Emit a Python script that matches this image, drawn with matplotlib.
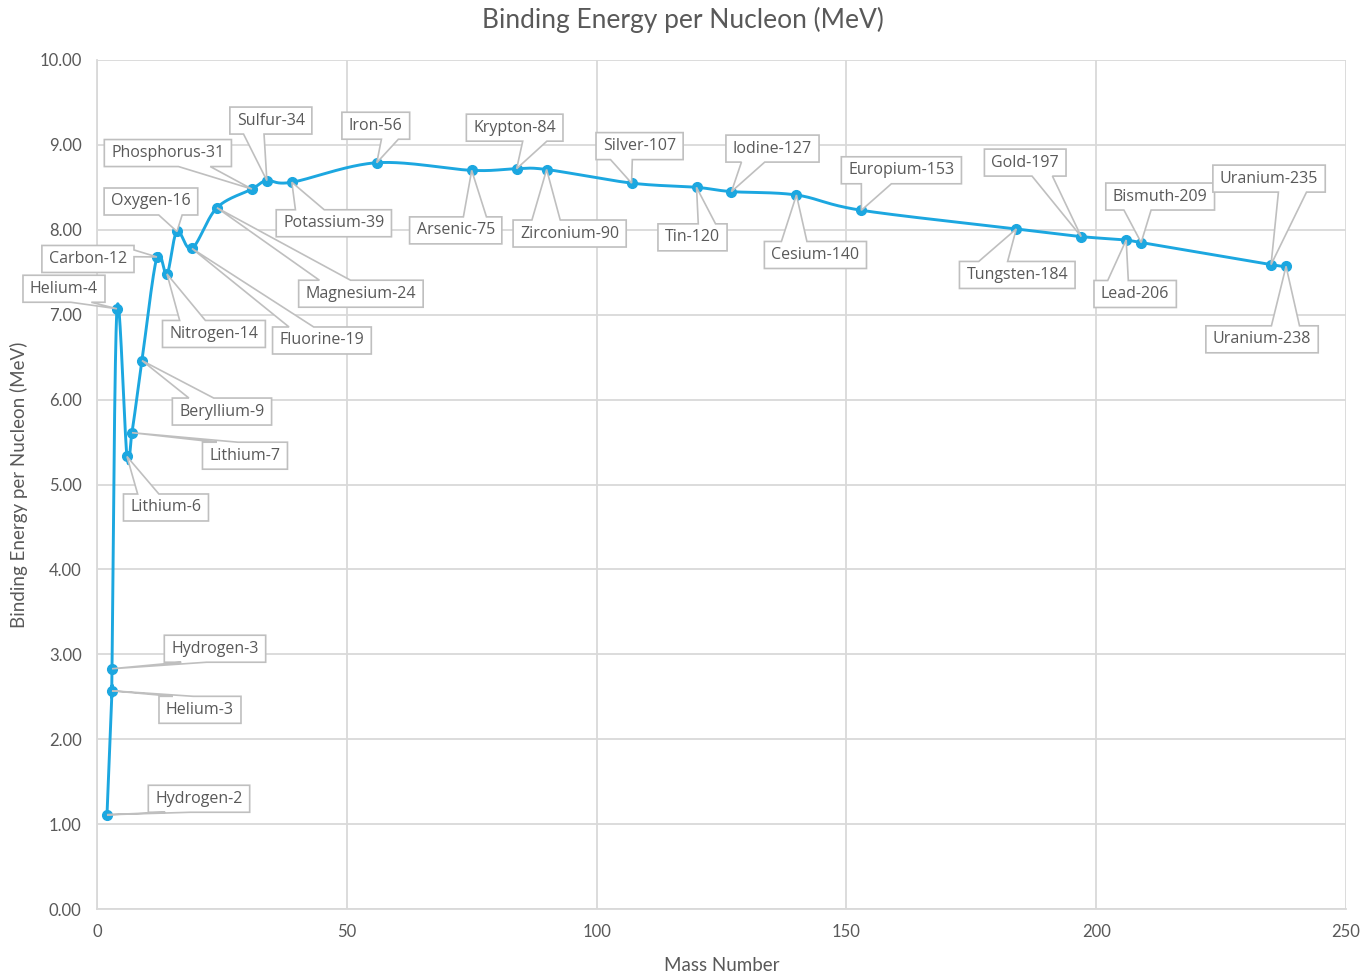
import numpy as np
import matplotlib
matplotlib.use("Agg")
import matplotlib.pyplot as plt
from matplotlib.patches import Polygon
from matplotlib.transforms import IdentityTransform
from matplotlib.ticker import FormatStrFormatter

# ---- data -------------------------------------------------------------
isotopes = ["Hydrogen-2", "Helium-3", "Hydrogen-3", "Helium-4", "Lithium-6",
            "Lithium-7", "Beryllium-9", "Carbon-12", "Nitrogen-14", "Oxygen-16",
            "Fluorine-19", "Magnesium-24", "Phosphorus-31", "Sulfur-34",
            "Potassium-39", "Iron-56", "Arsenic-75", "Krypton-84",
            "Zirconium-90", "Silver-107", "Tin-120", "Iodine-127", "Cesium-140",
            "Europium-153", "Tungsten-184", "Gold-197", "Lead-206",
            "Bismuth-209", "Uranium-235", "Uranium-238"]
mass_number = [2, 3, 3, 4, 6, 7, 9, 12, 14, 16, 19, 24, 31, 34, 39, 56, 75, 84,
               90, 107, 120, 127, 140, 153, 184, 197, 206, 209, 235, 238]
binding_energy = [1.11, 2.57, 2.83, 7.07, 5.33, 5.61, 6.46, 7.68, 7.48, 7.98,
                  7.78, 8.26, 8.48, 8.58, 8.56, 8.79, 8.70, 8.72, 8.71, 8.55,
                  8.50, 8.45, 8.41, 8.23, 8.01, 7.92, 7.88, 7.85, 7.59, 7.57]

x_ticks = [0, 50, 100, 150, 200, 250]
y_ticks = [0, 1, 2, 3, 4, 5, 6, 7, 8, 9, 10]

# ---- callout placement (pixels right / down from each point) ------------
label_dx = [92, 88, 103, -53, 39, 113, 80, -69, 47, -26, 130, 144, -84, 4, 42,
            -1, -16, -2, 23, 8, -4, 41, 19, 40, 1, -56, 9, 19, -2, -24]
label_dy = [-16, 19, -20, -20, 51, 23, 51, 2, 60, -30, 92, 86, -36, -60, 41,
            -37, 60, -41, 64, -37, 50, -43, 60, -40, 46, -74, 54, -46, -86, 73]

# ---- styling ------------------------------------------------------------
W, H, DPI = 1365, 975, 100
LINE_COLOR = "#1CA7E0"
GRID_COLOR = "#d9d9d9"
TEXT_COLOR = "#595959"
BOX_EDGE = "#bfbfbf"

fig = plt.figure(figsize=(W / DPI, H / DPI), dpi=DPI)
ax_l, ax_r, ax_t, ax_b = 97, 1346, 60, 909
ax = fig.add_axes([ax_l / W, 1 - ax_b / H, (ax_r - ax_l) / W, (ax_b - ax_t) / H])

ax.set_xlim(0, 250)
ax.set_ylim(0, 10)
ax.set_xticks(x_ticks)
ax.set_yticks(y_ticks)
ax.yaxis.set_major_formatter(FormatStrFormatter("%.2f"))
ax.grid(True, color=GRID_COLOR, linewidth=1.3)
ax.set_axisbelow(True)
for side in ["top", "right"]:
    ax.spines[side].set_visible(False)
for side in ["left", "bottom"]:
    ax.spines[side].set_color(GRID_COLOR)
    ax.spines[side].set_linewidth(1.3)
ax.tick_params(length=0, labelsize=12, labelcolor=TEXT_COLOR)
ax.tick_params(axis="y", pad=11)
ax.tick_params(axis="x", pad=11)
for lbl in ax.get_xticklabels() + ax.get_yticklabels():
    lbl.set_fontfamily("Lato")

ax.set_xlabel("Mass Number", fontsize=13.5, color=TEXT_COLOR, family="Lato",
              labelpad=12)
ax.set_ylabel("Binding Energy per Nucleon (MeV)", fontsize=13.5,
              color=TEXT_COLOR, family="Lato", labelpad=8)
fig.text(0.5, 1 - 20 / H,
         "Binding Energy per Nucleon (MeV)", ha="center", va="center",
         fontsize=19, color=TEXT_COLOR, family="Lato")

# ---- smoothed series (Catmull-Rom / Bezier in screen space) -------------
pts = ax.transData.transform(np.column_stack([mass_number, binding_energy]))
P = np.vstack([pts[0], pts, pts[-1]])
t = np.linspace(0, 1, 40)[:, None]
pieces = []
for i in range(1, len(P) - 2):
    p0, p1, p2, p3 = P[i - 1], P[i], P[i + 1], P[i + 2]
    c1 = p1 + (p2 - p0) / 6.0
    c2 = p2 - (p3 - p1) / 6.0
    seg = ((1 - t) ** 3) * p1 + 3 * ((1 - t) ** 2) * t * c1 \
        + 3 * (1 - t) * t ** 2 * c2 + t ** 3 * p2
    pieces.append(seg if i == 1 else seg[1:])
curve = ax.transData.inverted().transform(np.vstack(pieces))
ax.plot(curve[:, 0], curve[:, 1], color=LINE_COLOR, linewidth=2.1,
        solid_capstyle="round", zorder=3)
ax.plot(mass_number, binding_energy, linestyle="none", marker="o",
        markersize=7, color=LINE_COLOR, zorder=4)

# ---- wedge callouts -----------------------------------------------------
renderer = fig.canvas.get_renderer()
BOX_H = 27
PAD_X = 7


def wedge_callout(l, t_, r, b, px, py):
    """Rectangle outline (image coords, y down) with a wedge tail to (px, py)."""
    w, h = r - l, b - t_
    cx, cy = (l + r) / 2, (t_ + b) / 2
    dxp, dyp = (px - cx) / w, (py - cy) / h
    dq = abs(dxp * h) - abs(dyp * w)
    x1 = l + w * (7 if dxp > 0 else 2) / 12
    x2 = l + w * (10 if dxp > 0 else 5) / 12
    y1 = t_ + h * (7 if dyp > 0 else 2) / 12
    y2 = t_ + h * (10 if dyp > 0 else 5) / 12
    v = [(l, t_)]
    if dq <= 0 and dyp < 0:
        v += [(x1, t_), (px, py), (x2, t_)]
    v += [(r, t_)]
    if dq > 0 and dxp > 0:
        v += [(r, y1), (px, py), (r, y2)]
    v += [(r, b)]
    if dq <= 0 and dyp >= 0:
        v += [(x2, b), (px, py), (x1, b)]
    v += [(l, b)]
    if dq > 0 and dxp <= 0:
        v += [(l, y2), (px, py), (l, y1)]
    return v


for name, (sx, sy), ox, oy in zip(isotopes, pts, label_dx, label_dy):
    px, py = sx, H - sy                      # image coords (y down)
    cx, cy = px + ox, py + oy
    txt = fig.text(cx / W, 1 - cy / H, name, ha="center", va="center",
                   fontsize=11.5, color=TEXT_COLOR, family="Open Sans",
                   zorder=11)
    tw = txt.get_window_extent(renderer).width
    bw = tw + 2 * PAD_X
    l, r = cx - bw / 2, cx + bw / 2
    t_, b = cy - BOX_H / 2, cy + BOX_H / 2
    verts = [(x, H - y) for x, y in wedge_callout(l, t_, r, b, px, py)]
    poly = Polygon(verts, closed=True, facecolor="white", edgecolor=BOX_EDGE,
                   linewidth=1.2, transform=IdentityTransform(), zorder=10,
                   joinstyle="miter")
    fig.add_artist(poly)

fig.savefig("out.png", dpi=DPI, facecolor="white")
